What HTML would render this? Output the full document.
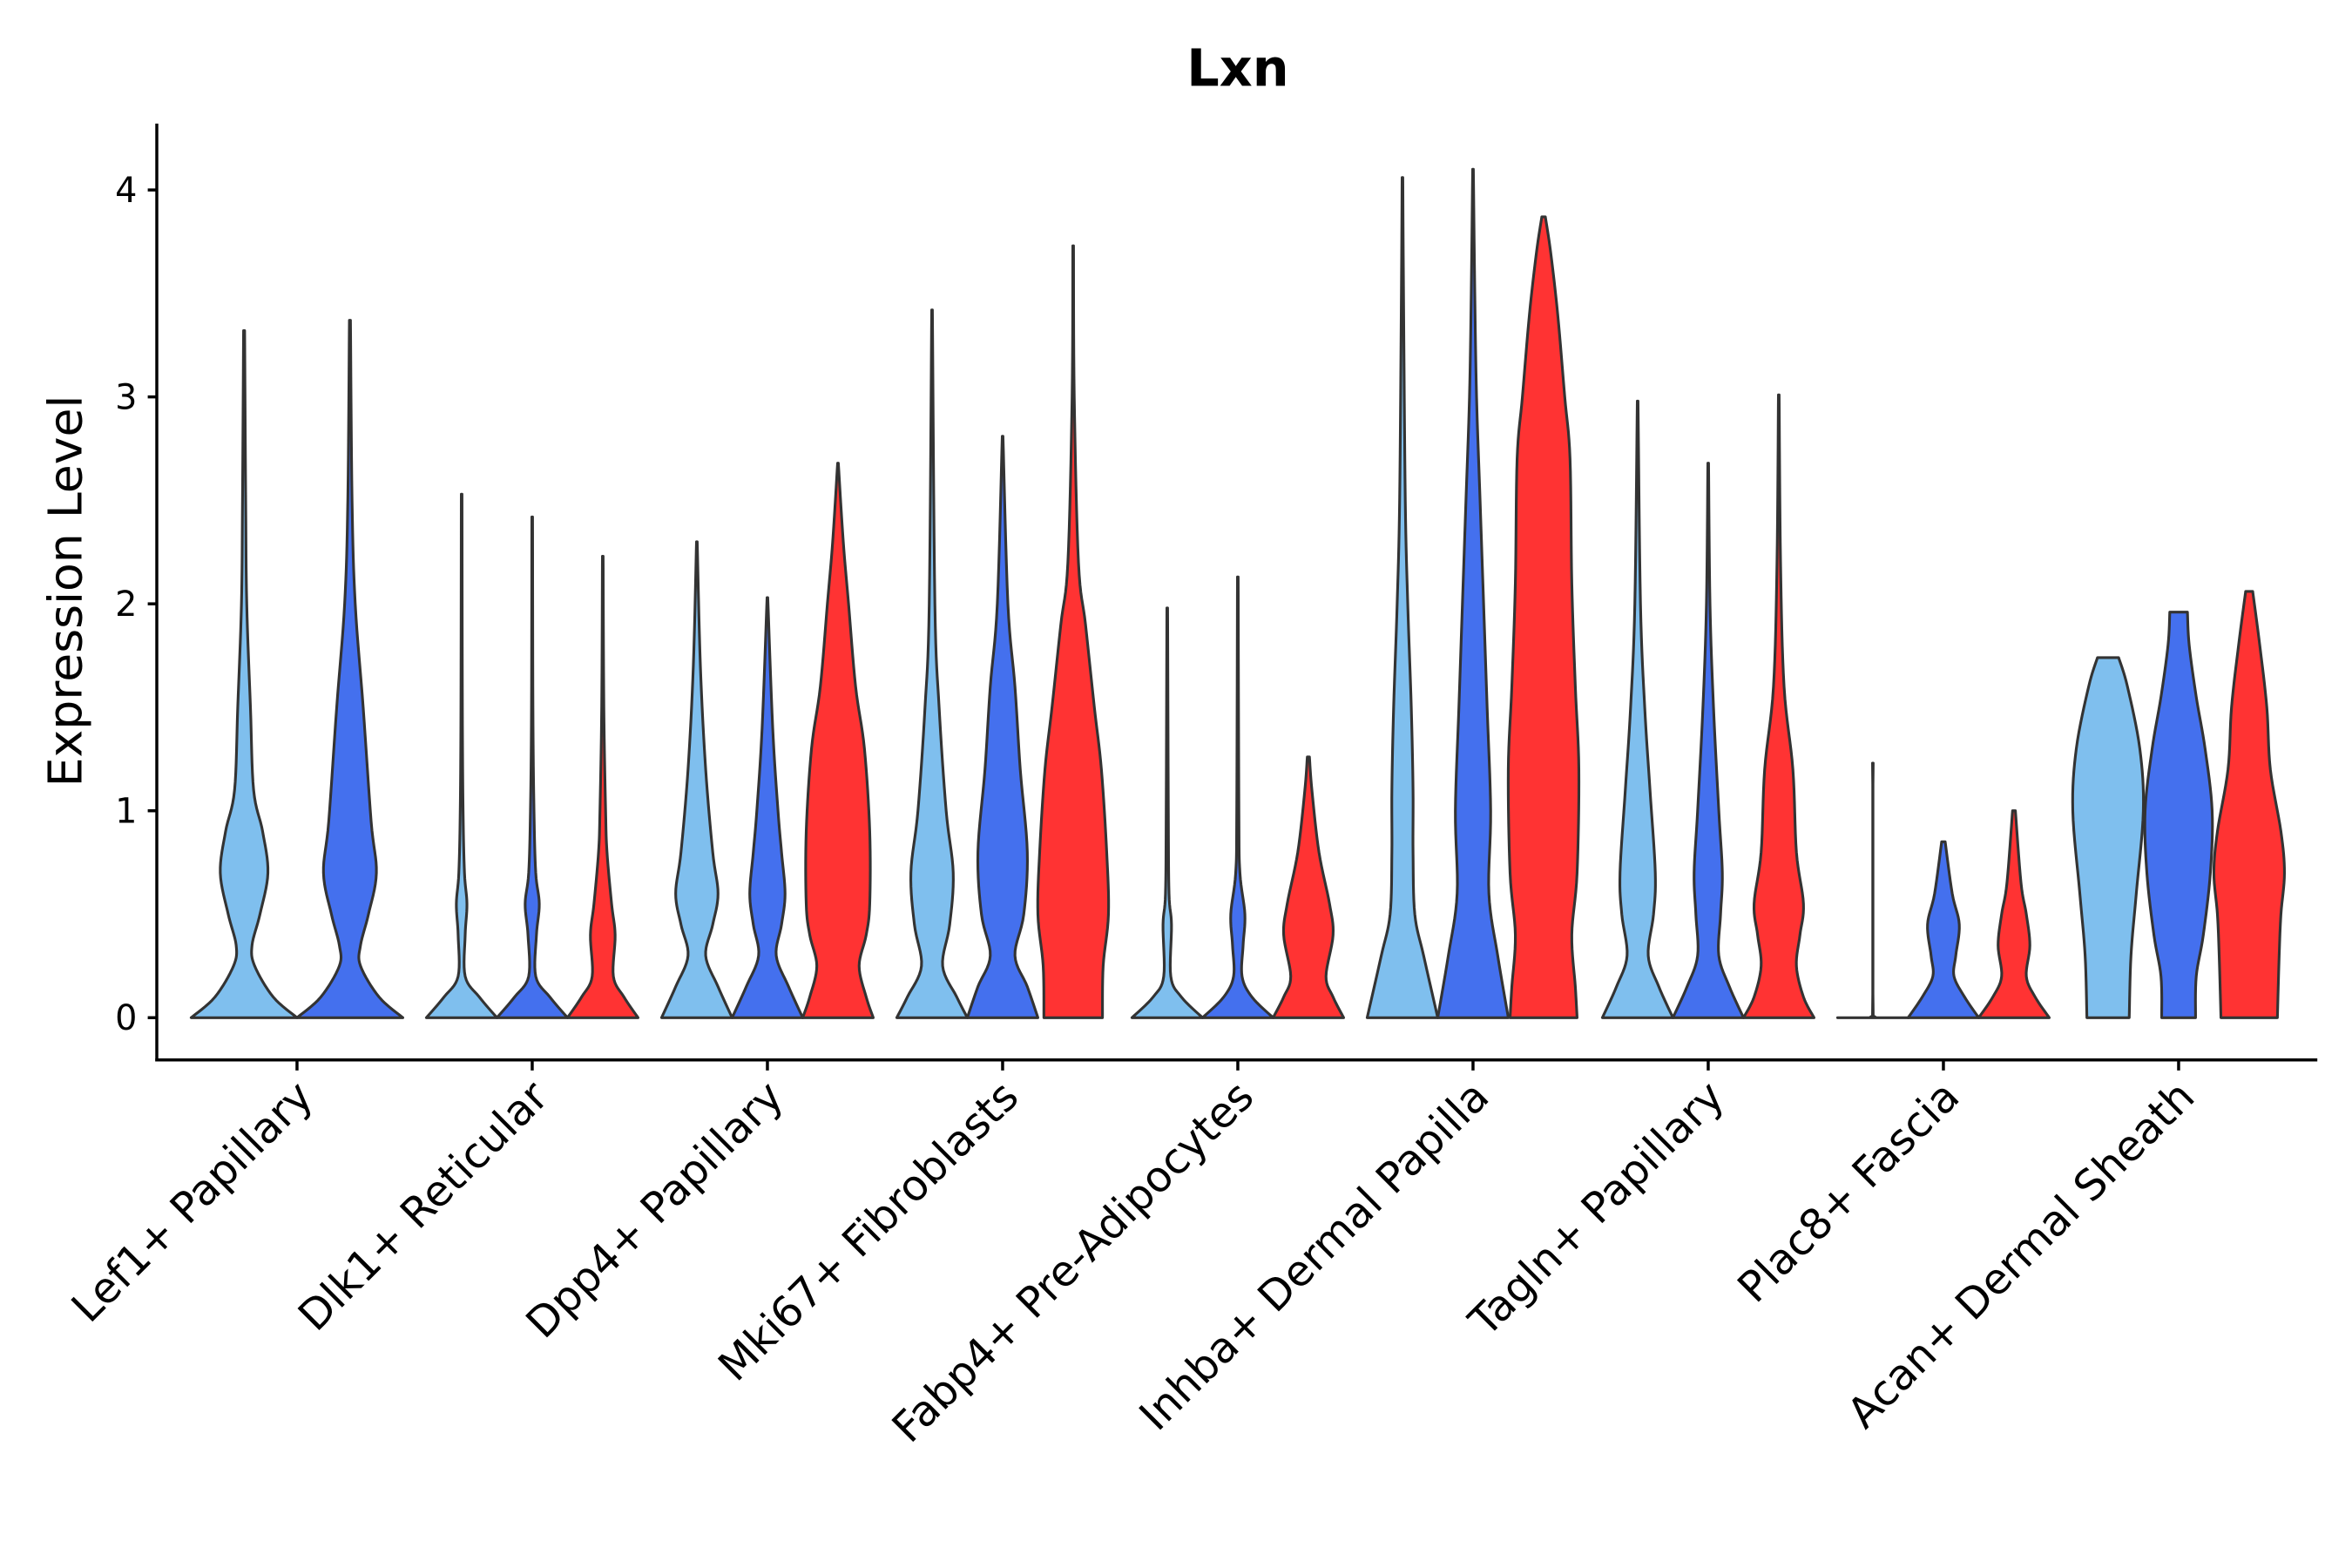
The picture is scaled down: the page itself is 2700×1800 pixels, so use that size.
<!DOCTYPE html>
<html><head><meta charset="utf-8"><style>
html,body{margin:0;padding:0;background:#fff;}
svg{display:block;}
text{font-family:"DejaVu Sans","Liberation Sans",sans-serif;fill:#000;}
</style></head><body>
<svg id="chart" width="2700" height="1800" viewBox="0 0 1560 1040" xmlns="http://www.w3.org/2000/svg">
<text x="821" y="57" text-anchor="middle" font-size="34" font-weight="bold">Lxn</text>
<text transform="translate(54,392) rotate(-90)" text-anchor="middle" font-size="31">Expression Level</text>
<g id="marks"></g>
<g id="axes"></g>
</svg>
<script>
const categories = ["Lef1+ Papillary","Dlk1+ Reticular","Dpp4+ Papillary","Mki67+ Fibroblasts","Fabp4+ Pre-Adipocytes","Inhba+ Dermal Papilla","Tagln+ Papillary","Plac8+ Fascia","Acan+ Dermal Sheath"];
const yTicks = [0,1,2,3,4];
const seriesColors = ["#7fbfee","#4470ee","#ff3333"];
// profiles: [value, relative density width]
const lightBlue = [
 [[0,1],[0.1,0.55],[0.25,0.2],[0.35,0.15],[0.5,0.3],[0.7,0.45],[0.9,0.35],[1.1,0.18],[1.5,0.12],[2,0.05],[2.5,0.03],[3.32,0.01]],
 [[0,1],[0.1,0.5],[0.2,0.1],[0.4,0.1],[0.55,0.15],[0.7,0.08],[1,0.04],[1.5,0.02],[2.53,0.01]],
 [[0,1],[0.15,0.6],[0.3,0.25],[0.45,0.45],[0.6,0.6],[0.8,0.45],[1.2,0.25],[1.7,0.1],[2.3,0.01]],
 [[0,1],[0.1,0.7],[0.25,0.3],[0.45,0.5],[0.7,0.6],[1.0,0.4],[1.5,0.2],[2,0.08],[3.42,0.01]],
 [[0,1],[0.1,0.4],[0.2,0.1],[0.45,0.12],[0.6,0.05],[1,0.03],[1.98,0.01]],
 [[0,1],[0.3,0.6],[0.5,0.35],[0.8,0.3],[1.1,0.3],[1.5,0.25],[2,0.15],[2.5,0.08],[3.5,0.03],[4.06,0.01]],
 [[0,1],[0.15,0.6],[0.3,0.3],[0.5,0.45],[0.7,0.5],[1.1,0.35],[1.5,0.2],[2,0.08],[2.98,0.01]],
 [[0,1],[0.01,0.01],[1.23,0.01]],
 [[0,0.6],[0.3,0.65],[0.6,0.8],[1,1],[1.3,0.9],[1.6,0.55],[1.74,0.3]]
];
const blue = [
 [[0,1],[0.1,0.55],[0.25,0.2],[0.35,0.2],[0.5,0.35],[0.7,0.5],[0.95,0.4],[1.5,0.25],[2,0.1],[2.5,0.04],[3.37,0.01]],
 [[0,1],[0.1,0.5],[0.2,0.1],[0.4,0.12],[0.55,0.2],[0.7,0.1],[1,0.05],[1.5,0.02],[2.42,0.01]],
 [[0,1],[0.15,0.6],[0.3,0.25],[0.45,0.4],[0.6,0.5],[0.8,0.4],[1.0,0.3],[1.4,0.15],[2.03,0.01]],
 [[0,1],[0.15,0.7],[0.3,0.35],[0.5,0.6],[0.8,0.7],[1.2,0.5],[1.6,0.35],[2.0,0.15],[2.81,0.01]],
 [[0,1],[0.1,0.4],[0.2,0.12],[0.35,0.15],[0.5,0.2],[0.7,0.06],[1,0.03],[2.13,0.01]],
 [[0,1],[0.3,0.7],[0.6,0.45],[1,0.5],[1.5,0.4],[2,0.3],[2.5,0.2],[3,0.1],[3.5,0.05],[4.1,0.01]],
 [[0,1],[0.15,0.6],[0.3,0.3],[0.5,0.35],[0.7,0.4],[1,0.3],[1.5,0.15],[2,0.05],[2.68,0.01]],
 [[0,1],[0.1,0.6],[0.2,0.3],[0.3,0.35],[0.45,0.45],[0.6,0.25],[0.85,0.05]],
 [[0,0.48],[0.2,0.5],[0.4,0.7],[0.7,0.9],[1,0.95],[1.3,0.75],[1.55,0.5],[1.8,0.3],[1.96,0.25]]
];
const red = [
 null,
 [[0,1],[0.1,0.6],[0.2,0.3],[0.4,0.35],[0.55,0.25],[0.8,0.12],[1.0,0.08],[1.5,0.03],[2.23,0.01]],
 [[0,1],[0.1,0.8],[0.25,0.6],[0.4,0.8],[0.55,0.9],[0.9,0.9],[1.3,0.75],[1.6,0.5],[2,0.3],[2.3,0.15],[2.68,0.01]],
 [[0,0.83],[0.25,0.85],[0.5,1],[0.8,0.95],[1.2,0.8],[1.5,0.6],[1.9,0.35],[2.2,0.15],[3,0.03],[3.73,0.01]],
 [[0,1],[0.1,0.7],[0.2,0.5],[0.4,0.7],[0.55,0.6],[0.8,0.3],[1.1,0.1],[1.26,0.03]],
 [[0,0.95],[0.15,0.9],[0.4,0.8],[0.7,0.95],[1.2,1],[1.6,0.9],[2.1,0.8],[2.7,0.75],[3,0.6],[3.4,0.4],[3.7,0.2],[3.87,0.05]],
 [[0,1],[0.1,0.7],[0.25,0.5],[0.4,0.6],[0.55,0.7],[0.8,0.5],[1.2,0.4],[1.6,0.15],[2.2,0.05],[3.01,0.01]],
 [[0,1],[0.1,0.6],[0.2,0.35],[0.35,0.45],[0.5,0.35],[0.65,0.2],[1,0.04]],
 [[0,0.8],[0.3,0.85],[0.5,0.9],[0.7,1],[0.9,0.9],[1.2,0.6],[1.5,0.5],[1.8,0.3],[2.06,0.1]]
];
const NS="http://www.w3.org/2000/svg";
const plot={left:104,right:1537,top:82,bottom:703};
const y0px=675, yUnit=137.25, band=156, firstX=197;
function yScale(v){return y0px - v*yUnit;}
function xScale(i){return firstX + i*band;}
const marks=document.getElementById('marks');
const axes=document.getElementById('axes');
function smooth(pts){
  const out=[];
  for(let i=0;i<pts.length-1;i++){
    const p0=pts[Math.max(0,i-1)],p1=pts[i],p2=pts[i+1],p3=pts[Math.min(pts.length-1,i+2)];
    for(let s=0;s<8;s++){
      const t=s/8,t2=t*t,t3=t2*t;
      const f=(a,b,c,d)=>0.5*((2*b)+(-a+c)*t+(2*a-5*b+4*c-d)*t2+(-a+3*b-3*c+d)*t3);
      out.push([Math.max(0,f(p0[0],p1[0],p2[0],p3[0])),Math.max(0.003,f(p0[1],p1[1],p2[1],p3[1]))]);
    }
  }
  out.push(pts[pts.length-1]);
  return out;
}
function violin(profile,cx,half,color,name){
  const sp=smooth(profile);
  let right=sp.map(p=>[cx+p[1]*half,yScale(p[0])]);
  let left=sp.slice().reverse().map(p=>[cx-p[1]*half,yScale(p[0])]);
  let pts=right.concat(left);
  const path=document.createElementNS(NS,'path');
  path.setAttribute('d','M'+pts.map(p=>p[0].toFixed(2)+','+p[1].toFixed(2)).join('L')+'Z');
  path.setAttribute('fill',color);
  path.setAttribute('stroke','#333');
  path.setAttribute('stroke-width','1.8');
  path.setAttribute('stroke-linejoin','round');
  
  
  marks.appendChild(path);
}
categories.forEach((c,i)=>{
  const groups=[lightBlue[i],blue[i],red[i]].map((p,k)=>({p,k})).filter(o=>o.p);
  const n=groups.length, w=band*0.9/n;
  groups.forEach((g,j)=>{
    const cx=xScale(i)-band*0.45+w*(j+0.5);
    violin(g.p,cx,w/2,seriesColors[g.k],'violin-'+i+'-'+g.k);
  });
});
function line(x1,y1,x2,y2,name){
  const l=document.createElementNS(NS,'line');
  l.setAttribute('x1',x1);l.setAttribute('y1',y1);l.setAttribute('x2',x2);l.setAttribute('y2',y2);
  l.setAttribute('stroke','#000');l.setAttribute('stroke-width','2');
  
  
  axes.appendChild(l);
}
line(plot.left,plot.top,plot.left,plot.bottom+1,'y-axis-line');
line(plot.left-1,plot.bottom,plot.right,plot.bottom,'x-axis-line');
yTicks.forEach(t=>{
  line(plot.left-6,yScale(t),plot.left,yScale(t),'y-tick');
  const tx=document.createElementNS(NS,'text');
  tx.setAttribute('x',plot.left-13);tx.setAttribute('y',yScale(t)+8);
  tx.setAttribute('text-anchor','end');tx.setAttribute('font-size','23');
  tx.textContent=t;
  
  
  axes.appendChild(tx);
});
categories.forEach((c,i)=>{
  const x=xScale(i);
  line(x,plot.bottom,x,plot.bottom+7,'x-tick');
  const tx=document.createElementNS(NS,'text');
  tx.setAttribute('transform','translate('+(x+12)+','+(plot.bottom+26)+') rotate(-45)');
  tx.setAttribute('text-anchor','end');tx.setAttribute('font-size','28');
  tx.textContent=c;
  
  
  axes.appendChild(tx);
});
</script>
</body></html>
